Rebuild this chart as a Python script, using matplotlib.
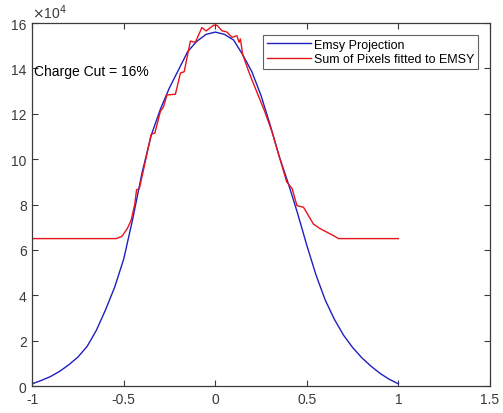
import matplotlib as mplt
mplt.use("Agg")
import matplotlib.pyplot as plt
import numpy as np
from matplotlib.ticker import FuncFormatter

# values, y in units of 1e4
emsy_x = [-1.0, -0.95, -0.9, -0.85, -0.8, -0.75, -0.7, -0.65, -0.6, -0.55, -0.5,
          -0.45, -0.4, -0.35, -0.3, -0.25, -0.2, -0.15, -0.1, -0.05, 0.0,
          0.05, 0.1, 0.15, 0.2, 0.25, 0.3, 0.35, 0.4, 0.45, 0.5,
          0.55, 0.6, 0.65, 0.7, 0.75, 0.8, 0.85, 0.9, 0.95, 1.0]
emsy_y = [0.1, 0.25, 0.42, 0.65, 0.94, 1.28, 1.75, 2.45, 3.35, 4.35, 5.6,
          7.4, 9.4, 11.05, 12.2, 13.15, 13.95, 14.75, 15.2, 15.5, 15.6,
          15.5, 15.25, 14.6, 13.85, 12.8, 11.5, 10.1, 8.9, 7.6, 6.2,
          4.9, 3.8, 2.95, 2.25, 1.7, 1.25, 0.88, 0.56, 0.3, 0.1]

pix_x = [-1.0, -0.54, -0.51, -0.48, -0.46, -0.44, -0.43, -0.415, -0.39, -0.35,
         -0.33, -0.30, -0.283, -0.264, -0.218, -0.19, -0.17, -0.136, -0.109,
         -0.073, -0.05, -0.01, 0.01, 0.036, 0.064, 0.091, 0.118, 0.13, 0.137,
         0.15, 0.19, 0.23, 0.27, 0.31, 0.35, 0.39, 0.42, 0.446, 0.482, 0.536,
         0.57, 0.61, 0.646, 0.673, 1.0]
pix_y = [6.5, 6.5, 6.6, 6.95, 7.3, 8.0, 8.65, 8.7, 9.6, 11.1,
         11.15, 12.1, 12.3, 12.83, 12.86, 13.8, 13.85, 15.2, 15.15,
         15.8, 15.65, 15.9, 15.9, 15.66, 15.6, 15.37, 15.44, 15.15, 15.3,
         14.6, 13.7, 12.9, 12.1, 11.2, 10.1, 9.0, 8.7, 7.95, 7.88, 7.14,
         6.95, 6.78, 6.63, 6.5, 6.5]

x_ticks = [-1, -0.5, 0, 0.5, 1, 1.5]
y_ticks = [0, 2, 4, 6, 8, 10, 12, 14, 16]

plt.rcParams["font.family"] = ["Liberation Sans", "DejaVu Sans"]

fig = plt.figure(figsize=(5.03, 4.14), dpi=100)
ax = fig.add_axes([0.064, 0.065, 0.91, 0.877])

scale = 1e4
ax.plot(emsy_x, np.array(emsy_y) * scale, c="#1f1fc0", lw=1.0, label="Emsy Projection")
ax.plot(pix_x, np.array(pix_y) * scale, c="#e8141a", lw=1.0, label="Sum of Pixels fitted to EMSY")

ax.set_xlim(-1, 1.5)
ax.set_ylim(0, 16e4)
ax.set_xticks(x_ticks)
ax.set_yticks([v * scale for v in y_ticks])
ax.xaxis.set_major_formatter(FuncFormatter(lambda v, p: f"{v:g}"))
ax.yaxis.set_major_formatter(FuncFormatter(lambda v, p: f"{v / scale:g}"))

ax.tick_params(direction="in", top=True, right=True, length=4.5, width=0.8,
               labelsize=10, colors="#3a3a3a", pad=4)
for s in ax.spines.values():
    s.set_color("#3a3a3a")
    s.set_linewidth(0.9)

ax.text(0.0, 1.005, r"$\times$10$^4$", transform=ax.transAxes,
        fontsize=10, color="#3a3a3a", ha="left", va="bottom")
ax.text(-0.988, 13.9e4, "Charge Cut = 16%", fontsize=10, color="k",
        ha="left", va="center")

leg = ax.legend(loc="upper right", bbox_to_anchor=(0.975, 0.967), fontsize=9,
                frameon=True, fancybox=False, handlelength=3.5,
                borderpad=0.3, labelspacing=0.2, handletextpad=0.3,
                borderaxespad=0.0)
leg.get_frame().set_edgecolor("#3a3a3a")
leg.get_frame().set_linewidth(0.8)

plt.savefig("out.png", dpi=100)
plt.close()
